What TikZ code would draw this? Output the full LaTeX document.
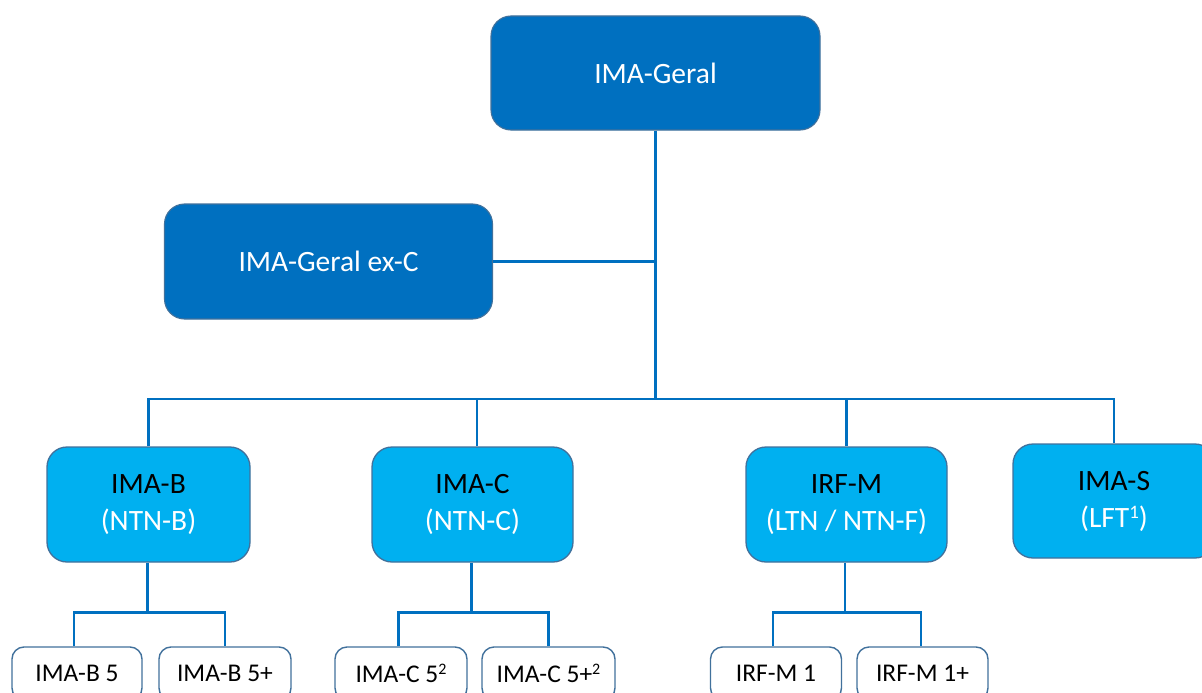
\documentclass[tikz,border=0pt]{standalone}
\usepackage{fontspec}
\setmainfont{Carlito}
\definecolor{darkfill}{HTML}{0070C0}
\definecolor{lightfill}{HTML}{00B0F0}
\definecolor{boxborder}{HTML}{41719C}
\definecolor{linkblue}{HTML}{0070C0}
\newcommand{\supr}[3]{\raisebox{#1pt}{\fontsize{#2}{#2}\selectfont #3}}
\tikzset{
  topbox/.style={rectangle, rounded corners=20pt, fill=darkfill, draw=boxborder, line width=1.1pt,
    text=white, font=\fontsize{29.5}{37}\selectfont, align=center, inner sep=0pt},
  midbox/.style={rectangle, rounded corners=20pt, fill=lightfill, draw=boxborder, line width=1.3pt,
    text=black, font=\fontsize{29.5}{37}\selectfont, align=center, inner sep=0pt},
  leafbox/.style={rectangle, rounded corners=12pt, fill=white, draw=boxborder, line width=1.4pt,
    text=black, font=\fontsize{25.5}{30}\selectfont, align=center, inner sep=0pt,
    minimum height=53pt},
  link/.style={draw=linkblue, line width=2.3pt}
}
\begin{document}
\begin{tikzpicture}[x=1pt,y=-1pt]
\useasboundingbox (0,0) rectangle (1202,693);
\clip (0,0) rectangle (1202,693);
\fill[white] (0,0) rectangle (1202,693);
% level 1
\node[topbox, minimum width=329pt, minimum height=114pt] (geral) at (655.5,73) {IMA-Geral};
\node[topbox, minimum width=328pt, minimum height=115pt] (exc) at (328.5,261.5) {IMA-Geral ex-C};
% level 2
\node[midbox, minimum width=203pt, minimum height=115pt] (imab) at (148.5,504.5) {IMA-B\\\textcolor{white}{(NTN-B)}};
\node[midbox, minimum width=201pt, minimum height=115pt] (imac) at (472.5,504.5) {IMA-C\\\textcolor{white}{(NTN-C)}};
\node[midbox, minimum width=201pt, minimum height=115pt] (irfm) at (846.5,504.5) {IRF-M\\\textcolor{white}{(LTN / NTN-F)}};
\node[midbox, minimum width=202pt, minimum height=114pt] (imas) at (1114,501) {IMA-S\\\textcolor{white}{(LFT\supr{8.5}{19}{1})}};
% level 3
\node[leafbox, minimum width=130pt] (b5) at (77,673.5) {IMA-B 5};
\node[leafbox, minimum width=132pt] (b5p) at (225,673.5) {IMA-B 5+};
\node[leafbox, minimum width=132pt] (c5) at (401,673.5) {IMA-C 5\supr{7.5}{16}{2}};
\node[leafbox, minimum width=133pt] (c5p) at (548.5,673.5) {IMA-C 5+\supr{7.5}{16}{2}};
\node[leafbox, minimum width=131pt] (m1) at (776,673.5) {IRF-M 1};
\node[leafbox, minimum width=131pt] (m1p) at (922.5,673.5) {IRF-M 1+};
% connectors
\coordinate (bar) at (0,399);
\coordinate (sub) at (0,612.5);
\draw[link] (geral.south) -- (geral.south |- bar);
\draw[link] (exc.east) -- (exc.east -| geral.south);
\draw[link] (imab.north) |- (bar -| imas.north) -- (imas.north);
\draw[link] ([xshift=4.5pt]imac.north) -- ([xshift=4.5pt]imac.north |- bar);
\draw[link] (irfm.north) -- (irfm.north |- bar);
\draw[link] ([xshift=-1pt]imab.south) -- ([xshift=-1pt]imab.south |- sub);
\draw[link] ([xshift=-3pt]b5.north) |- (sub -| b5p.north) -- (b5p.north);
\draw[link] ([xshift=-1pt]imac.south) -- ([xshift=-1pt]imac.south |- sub);
\draw[link] ([xshift=-2.5pt]c5.north) |- (sub -| c5p.north) -- (c5p.north);
\draw[link] ([xshift=-1.5pt]irfm.south) -- ([xshift=-1.5pt]irfm.south |- sub);
\draw[link] ([xshift=-3pt]m1.north) |- ([xshift=-1.5pt]sub -| m1p.north) -- ([xshift=-1.5pt]m1p.north);
\end{tikzpicture}
\end{document}
